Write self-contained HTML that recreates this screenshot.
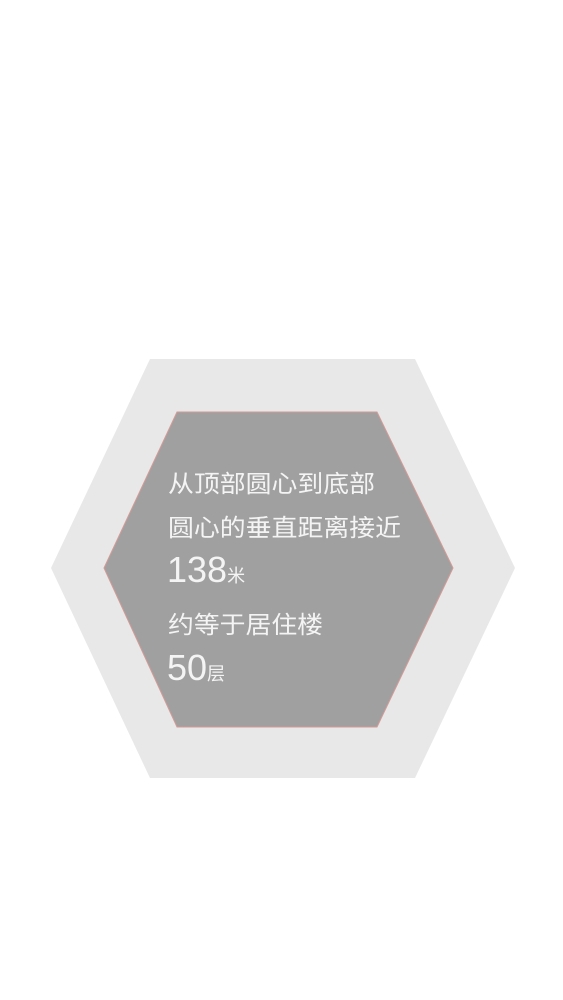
<!DOCTYPE html>
<html><head><meta charset="utf-8"><style>
html,body{margin:0;padding:0;background:#fff;width:563px;height:1000px;overflow:hidden}
text{font-family:"Liberation Sans","Noto Sans CJK SC",sans-serif;fill:#f4f4f4}
</style></head><body>
<svg width="563" height="1000" viewBox="0 0 563 1000">
<polygon points="150,359 415,359 515,568 415,778 150,778 51,568" fill="#e8e8e8"/>
<polygon points="177,412 377,412 453,568 377,727 177,727 104,568" fill="#a0a0a0" stroke="#d49a96" stroke-width="1"/>
<text x="168" y="492" font-size="24" textLength="207" lengthAdjust="spacingAndGlyphs">从顶部圆心到底部</text>
<text x="168" y="536" font-size="24" textLength="233" lengthAdjust="spacingAndGlyphs">圆心的垂直距离接近</text>
<text x="167" y="582" font-size="36">138<tspan font-size="18">米</tspan></text>
<text x="168" y="633" font-size="24" textLength="155" lengthAdjust="spacingAndGlyphs">约等于居住楼</text>
<text x="167" y="680" font-size="36">50<tspan font-size="18">层</tspan></text>
</svg>
</body></html>
